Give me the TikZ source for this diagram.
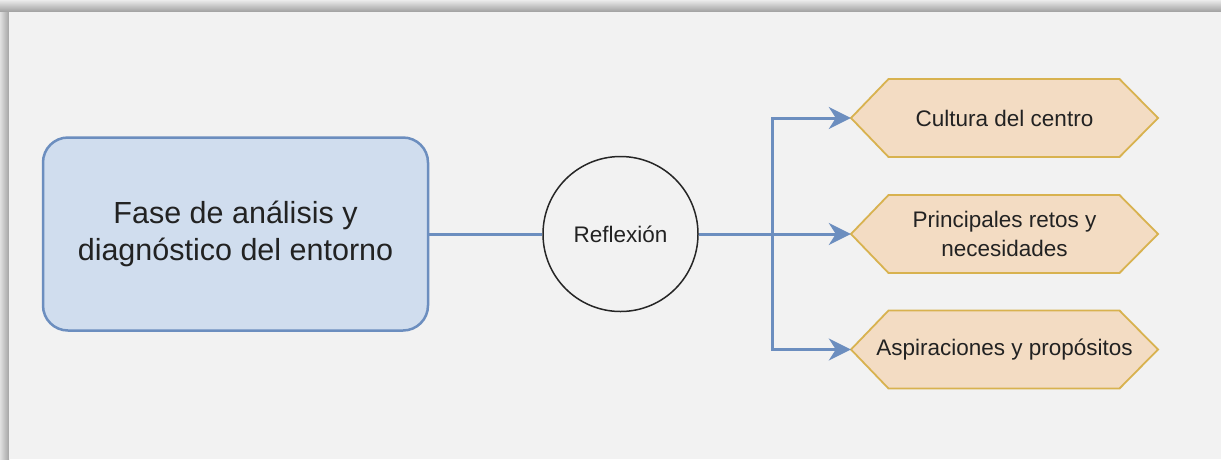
\documentclass[tikz,border=0pt]{standalone}
\usepackage{fontspec}
\setmainfont{Liberation Sans}
\usetikzlibrary{arrows.meta}
\definecolor{panel}{HTML}{F2F2F2}
\definecolor{bluefill}{HTML}{D0DDEE}
\definecolor{bluedraw}{HTML}{6C8EBF}
\definecolor{hexfill}{HTML}{F3DCC3}
\definecolor{hexdraw}{HTML}{D8B24F}
\definecolor{txt}{HTML}{222222}
\tikzset{
  mainbox/.style={rectangle, rounded corners=25pt, draw=bluedraw, fill=bluefill, line width=2.5pt,
    minimum width=385pt, minimum height=193pt, align=center, text=txt,
    font=\fontsize{30.5}{37}\selectfont},
  reflnode/.style={circle, draw=black!85, line width=1.5pt, minimum size=155pt, inner sep=0pt,
    text=txt, font=\fontsize{22.5}{27}\selectfont},
  hexshape/.style={draw=hexdraw, fill=hexfill, line width=1.8pt, line join=miter},
  hextext/.style={rectangle, minimum width=307pt, minimum height=78pt, inner sep=0pt,
    align=center, text=txt, font=\fontsize{22.5}{28.5}\selectfont},
  conn/.style={draw=bluedraw, line width=3pt},
  arr/.style={conn, -{Stealth[length=22pt,width=22pt,inset=7pt]}},
  hexa/.pic={\path[hexshape] (-153.5,0) -- (-116,-39) -- (115,-39) -- (153.5,0) -- (115,39) -- (-116,39) -- cycle;}
}
\begin{document}
\begin{tikzpicture}[x=1pt,y=-1pt]
\useasboundingbox (0,0) rectangle (1221,459);
% shadow frame
\fill[black!18] (0,0) rectangle (1221,459);
\shade[top color=black!8, bottom color=black!38] (0,0) rectangle (1221,12);
\shade[left color=black!12, right color=black!36] (0,12) rectangle (9,459);
\fill[panel] (9,12) rectangle (1221,459);
% hexagon outlines
\pic at (1004.5,118) {hexa};
\pic at (1004.5,234) {hexa};
\pic at (1004.5,349.5) {hexa};
% nodes
\node[mainbox] (box) at (235.5,234) {Fase de análisis y\\diagnóstico del entorno};
\node[reflnode] (refl) at (620.5,234) {Reflexión};
\node[hextext] (h1) at (1004.5,118) {Cultura del centro};
\node[hextext] (h2) at (1004.5,234) {Principales retos y\\necesidades};
\node[hextext] (h3) at (1004.5,349.5) {Aspiraciones y propósitos};
\coordinate (j) at (772.5,234);
% connectors
\draw[conn] (box.east) -- (refl.west);
\draw[arr] (refl.east) -- (h2.west);
\draw[arr] (j) |- (h1.west);
\draw[arr] (j) |- (h3.west);
\end{tikzpicture}
\end{document}
